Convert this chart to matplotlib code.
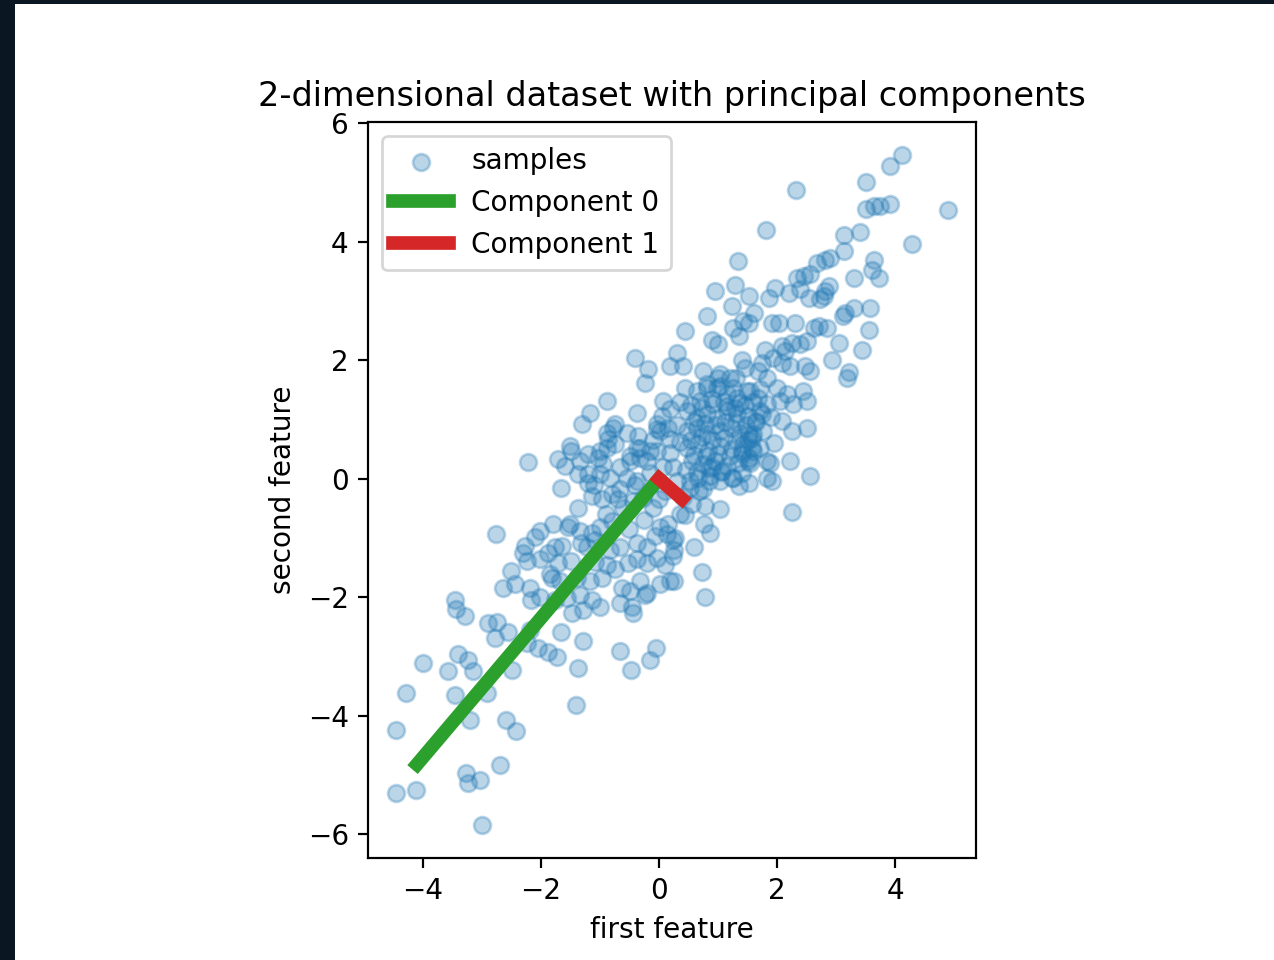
import matplotlib
matplotlib.use("Agg")
import matplotlib.pyplot as plt
from matplotlib.patches import Rectangle

# samples (first feature / second feature)
first_feature = [
    4.12, 3.92, 3.51, 2.32, 4.90, 3.51, 3.64, 3.75, 3.92, 1.81,
    3.14, 3.41, 4.29, 3.14, 1.34, 2.68, 2.81, 2.90, 3.64, 3.61,
    3.73, 3.31, 2.34, 2.46, 2.20, 2.81, 2.88, 2.80, 2.54, 1.97,
    1.86, 1.29, 1.53, 1.61, 1.53, 0.95, 1.24, 0.81, 0.44, 0.31,
    0.90, 1.36, 1.41, 1.92, 2.03, 2.31, 2.63, 2.71, 3.15, 3.31,
    3.58, 3.56, 3.05, 3.44, 2.93, 2.08, 2.25, 1.80, 1.75, 2.08,
    2.47, 3.22,
    2.39, 2.56, 2.73, 3.12, 1.42, 2.85, 2.56, 3.19, 1.00, 1.25,
    1.93, 2.14, 2.39, 2.51, 2.22, 1.46, 0.75, 1.03, 1.20, 1.68,
    1.83, 2.00, 2.17, 2.44, 2.51, 1.54, 1.68, 0.81, 0.98, 1.15,
    1.32, 0.69, 0.92, 1.15, 1.37, 1.83, 2.05, 2.27,
    2.51, 2.25, 2.08, 1.88, 2.22, 1.92, 2.56, 2.25, 1.54, 1.53,
    1.36, 1.03, 0.78, 0.76, 0.86, 0.44, 0.59, 0.27, 0.25, 0.73,
    0.25, 0.78, 1.75, 1.63, 1.53, 1.58, 1.41, 1.58, 1.53, 1.07,
    1.24, 0.85, 0.68, 0.90, 0.53, 0.56,
    -0.24, 0.07, 0.19, 0.44, 0.64, 0.81, 1.03, 1.25, 1.49, 1.71,
    0.05, -0.03, -0.54, 0.02, 0.19, 0.47, 0.64, 0.81, 0.98, 1.15,
    1.32, 1.51, 1.71, 0.47, 0.64, 0.81, 1.03, 1.24, 1.37, 1.59,
    1.76, 0.47, 0.66, 0.83, 1.03, 1.24, 1.42, 1.59, 0.56, 0.75,
    0.95, 1.15, 1.34, 1.51, 0.66, 0.86, 1.03, 1.25, -0.49, -0.32,
    -0.20, -0.03, 0.19, 0.24, 0.07, 1.83, 1.71, 1.83, 0.53, 0.75,
    0.31, -0.54, -0.37,
    0.55, 0.72, 0.90, 1.10, 1.28, 1.45, 0.60, 0.78, 0.95, 1.12,
    1.30, 1.48, 1.65, 0.55, 0.72, 0.90, 1.10, 1.30, 1.50, 0.60,
    0.80, 1.00, 1.20, 1.40, 0.45, 0.65, 0.85, 1.05, 1.40, 0.35,
    0.30, 0.35, 1.00, 1.30, 1.60, 1.90, 1.95, 0.40, 0.10, -0.15,
    -0.10, 0.15, -0.70, -0.50, -0.25, -0.90, -1.10, -0.40, 0.00, -0.95,
    -0.41, -0.19, 0.19, 0.41, -0.88, -1.17, -1.31, -0.37, -0.88, -0.78,
    -0.36, -1.51, -0.03, -0.75, -0.86, -2.22, -1.49, -1.71, -1.59, -1.20,
    -1.03, -1.66, -1.37, -1.20, -1.37, -1.80, -2.76, -2.27, -2.10, -2.31,
    -2.51, -2.64, -2.44, -1.85, -2.19, -2.17, -3.46, -3.44, -3.29, -1.54,
    -1.32, -1.76, -1.49,
    -1.34, -1.00, -0.88, -0.75, -1.20, -1.00, -0.83, -0.66, -0.49, -0.32,
    -0.37, -0.15, -1.14, -0.97, -0.80, -0.66, -0.61, -0.44, -0.27, -1.51,
    -1.34, -1.14, -1.00, -0.80, -0.10, 0.02, 0.15, 0.36, -2.02, -1.64,
    -1.22, -1.08, -0.83, -0.66, -0.37, -0.20, -0.07, 0.14, 0.24, -2.24,
    -2.02, -1.88, -1.71, -1.39, -1.08, -0.88, -0.75, -0.53, -0.37, -0.20,
    -0.03, 0.10, 0.24, -1.81, -1.68, -1.17, -0.97, -0.63, -0.49, -0.32,
    -0.20, 0.02, 0.19, -2.02, -1.76, -1.56, -1.34, -1.14, -1.00, -0.66,
    -0.46, -0.24, -1.47, -1.29, -0.44,
    -2.90, -2.75, -2.78, -2.56, -3.41, -3.24, -3.15, -4.00, -3.58, -2.49,
    -2.19, -2.24, -2.05, -1.88, -1.73, -4.29, -3.46, -2.92, -1.66, -1.29,
    -1.37, -0.66, -0.47, -0.15, -0.05, -1.41, -4.46, -3.20, -2.59, -2.42,
    -2.69, -3.27, -3.03, -3.24, -4.46, -4.12, -3.00,
]
second_feature = [
    5.47, 5.27, 5.00, 4.87, 4.53, 4.56, 4.60, 4.61, 4.63, 4.19,
    4.11, 4.16, 3.96, 3.84, 3.67, 3.64, 3.69, 3.72, 3.69, 3.52,
    3.38, 3.38, 3.38, 3.42, 3.13, 3.16, 3.25, 3.08, 3.05, 3.22,
    3.05, 3.27, 3.08, 2.79, 2.63, 3.16, 2.91, 2.74, 2.49, 2.12,
    2.34, 2.41, 2.00, 2.63, 2.63, 2.63, 2.54, 2.58, 2.79, 2.88,
    2.88, 2.51, 2.29, 2.17, 2.00, 2.24, 2.29, 2.17, 1.95, 1.95,
    1.90, 1.80,
    3.20, 3.45, 3.03, 2.74, 2.66, 2.54, 1.82, 1.70, 2.27, 2.54,
    2.04, 2.15, 2.27, 2.32, 1.90, 1.87, 1.82, 1.77, 1.70, 1.82,
    1.70, 1.53, 1.43, 1.48, 1.31, 1.48, 1.36, 1.53, 1.53, 1.43,
    1.36, 1.31, 1.26, 1.23, 1.28, 1.26, 1.31, 1.26,
    0.86, 0.81, 0.98, 0.27, 0.30, -0.03, 0.05, -0.56, 0.27, -0.08,
    -0.12, -0.51, -0.46, -0.76, -0.91, -0.62, -1.16, -1.00, -1.21, -1.58,
    -1.72, -2.00, 1.09, 0.98, 0.76, 0.69, 0.47, 0.52, 0.35, 0.13,
    0.02, -0.03, -0.20, 0.19, -0.03, -0.42,
    1.62, 1.31, 1.18, 1.53, 1.48, 1.60, 1.57, 1.53, 1.48, 1.52,
    1.06, 0.93, 0.77, 0.81, 0.67, 1.14, 1.03, 1.09, 1.03, 1.14,
    1.09, 1.06, 1.14, 0.81, 0.86, 0.76, 0.81, 0.86, 0.77, 0.76,
    0.81, 0.52, 0.59, 0.47, 0.56, 0.51, 0.59, 0.47, 0.30, 0.25,
    0.30, 0.22, 0.27, 0.30, 0.02, 0.05, -0.03, 0.02, 0.39, 0.52,
    0.30, 0.47, 0.44, 0.19, 0.19, 0.30, 0.52, 0.02, -0.15, -0.17,
    -0.03, 0.02, -0.03,
    1.25, 1.20, 1.35, 1.30, 1.20, 1.25, 0.95, 0.92, 0.90, 0.95,
    0.95, 0.90, 0.95, 0.65, 0.70, 0.65, 0.68, 0.65, 0.65, 0.40,
    0.38, 0.42, 0.38, 0.42, 0.15, 0.12, 0.18, 0.12, 0.10, 0.62,
    0.90, 1.30, 1.70, 1.70, 1.30, 1.05, 0.60, -0.30, -0.20, 0.10,
    0.65, 0.85, -0.35, -0.85, -0.70, -0.60, -0.10, -0.10, -0.35, 0.25,
    2.04, 1.85, 1.90, 1.90, 1.31, 1.11, 0.93, 1.11, 0.77, 0.86,
    0.72, 0.56, 0.84, 0.93, 0.67, 0.29, 0.47, 0.34, 0.22, 0.42,
    0.35, -0.15, 0.08, -0.08, -0.49, -0.76, -0.93, -1.13, -0.99, -1.25,
    -1.55, -1.85, -1.77, -1.60, -1.85, -2.05, -2.05, -2.19, -2.31, -0.82,
    -1.09, -1.16, -1.38,
    0.30, 0.47, 0.52, 0.59, 0.08, 0.08, 0.02, 0.19, 0.30, 0.35,
    0.52, 0.47, -0.29, -0.34, -0.25, -0.17, -0.49, -0.37, -0.32, -0.76,
    -0.88, -0.91, -0.82, -0.71, -0.49, -0.82, -0.76, -0.60, -0.88, -1.13,
    -1.16, -1.04, -1.21, -1.16, -1.09, -1.16, -0.96, -0.93, -1.04, -1.38,
    -1.35, -1.26, -1.43, -1.67, -1.41, -1.46, -1.52, -1.43, -1.35, -1.43,
    -1.33, -1.46, -1.30, -1.67, -1.72, -1.72, -1.68, -1.84, -1.89, -1.72,
    -1.92, -1.77, -1.72, -2.00, -2.05, -2.02, -1.97, -2.05, -2.17, -2.10,
    -2.17, -1.97, -2.27, -2.22, -2.27,
    -2.44, -2.42, -2.68, -2.59, -2.95, -3.06, -3.25, -3.11, -3.25, -3.23,
    -2.56, -2.78, -2.86, -2.93, -3.01, -3.62, -3.65, -3.62, -2.58, -2.73,
    -3.20, -2.91, -3.23, -3.06, -2.86, -3.82, -4.24, -4.07, -4.07, -4.26,
    -4.83, -4.97, -5.08, -5.13, -5.30, -5.25, -5.84,
]

# principal component end points (scaled by explained variance)
component_names = ["Component 0", "Component 1"]
component_x = [-4.10, 0.39]
component_y = [-4.82, -0.34]
component_colors = ["C2", "C3"]

plt.rcParams["font.size"] = 10.2

fig = plt.figure(figsize=(1274 / 197, 960 / 197), dpi=197)
fig.patch.set_facecolor("#0a1621")
fig.add_artist(Rectangle((15 / 1274, 0), 1 - 15 / 1274, 956 / 960,
                         transform=fig.transFigure, facecolor="white",
                         edgecolor="none", zorder=-1))

ax = fig.add_axes([368 / 1274, 102 / 960, 608 / 1274, 736 / 960])
ax.scatter(first_feature, second_feature, s=38, alpha=0.3, label="samples")
for i in range(len(component_names)):
    ax.plot([0, component_x[i]], [0, component_y[i]], label=component_names[i],
            linewidth=5, color=component_colors[i])

ax.set_xlim(-4.93, 5.37)
ax.set_ylim(-6.4, 6.02)
ax.set_title("2-dimensional dataset with principal components")
ax.set_xlabel("first feature")
ax.set_ylabel("second feature")
ax.legend(loc="upper left")

fig.savefig("out.png", dpi=197, facecolor=fig.get_facecolor())
